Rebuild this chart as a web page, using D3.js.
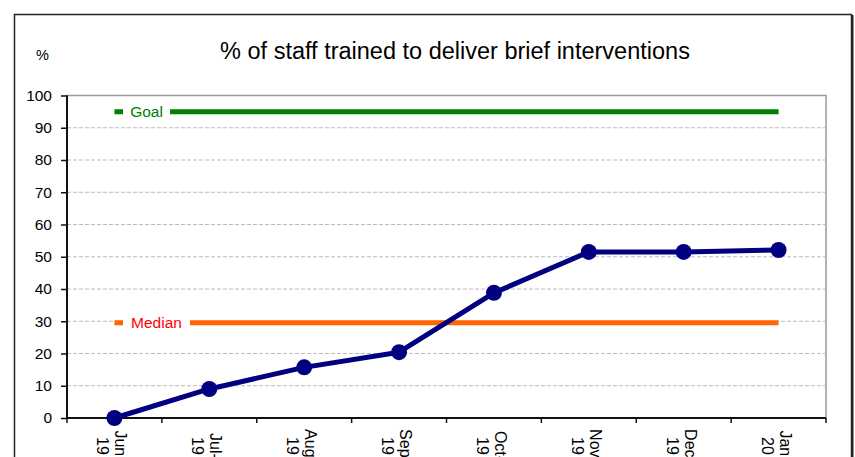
<!DOCTYPE html>
<html>
<head>
<meta charset="utf-8">
<script src="https://cdn.jsdelivr.net/npm/d3@7"></script>
<style>
  body { margin: 0; background: #fff; }
  text { font-family: "Liberation Sans", Arial, sans-serif; }
</style>
</head>
<body>
<div id="wrapper"></div>
<script>
  // data
  const months = ["Jun-19", "Jul-19", "Aug-19", "Sep-19", "Oct-19", "Nov-19", "Dec-19", "Jan-20"]
  const trained = [0, 9, 15.7, 20.4, 38.8, 51.5, 51.5, 52.1]
  const goal = 95
  const median = 29.5
  const yTicks = [0, 10, 20, 30, 40, 50, 60, 70, 80, 90, 100]

  const dimensions = {
    width: 855,
    height: 457,
    margin: { top: 95.5, right: 29, bottom: 39, left: 67 },
  }
  dimensions.boundedWidth = dimensions.width - dimensions.margin.left - dimensions.margin.right
  dimensions.boundedHeight = dimensions.height - dimensions.margin.top - dimensions.margin.bottom

  const svg = d3.select("#wrapper").append("svg")
      .attr("width", dimensions.width)
      .attr("height", dimensions.height)

  // outer frame
  svg.append("rect")
      .attr("x", 14.5).attr("y", 14.5)
      .attr("width", 837).attr("height", 460)
      .attr("fill", "none")
      .attr("stroke", "#222")
      .attr("stroke-width", 1.5)
  svg.append("line")
      .attr("x1", 852.5).attr("x2", 852.5)
      .attr("y1", 15).attr("y2", 457)
      .attr("stroke", "#222").attr("stroke-width", 2)

  svg.append("text")
      .attr("x", 455).attr("y", 59)
      .attr("text-anchor", "middle")
      .attr("font-size", 23.5)
      .text("% of staff trained to deliver brief interventions")
  svg.append("text")
      .attr("x", 42.5).attr("y", 60)
      .attr("text-anchor", "middle")
      .attr("font-size", 14.5)
      .text("%")

  const bounds = svg.append("g")
      .attr("transform", `translate(${dimensions.margin.left}, ${dimensions.margin.top})`)

  // scales
  const xScale = d3.scaleBand()
      .domain(months)
      .range([0, dimensions.boundedWidth])
  const xPos = d => xScale(d) + xScale.bandwidth() / 2

  const yScale = d3.scaleLinear()
      .domain([0, 100])
      .range([dimensions.boundedHeight, 0])

  // plot area border
  bounds.append("rect")
      .attr("width", dimensions.boundedWidth)
      .attr("height", dimensions.boundedHeight)
      .attr("fill", "none")
      .attr("stroke", "#999")
      .attr("stroke-width", 1.5)

  // gridlines
  bounds.append("g").selectAll("line")
    .data(yTicks.filter(d => d > 0 && d < 100))
    .join("line")
      .attr("x1", 0).attr("x2", dimensions.boundedWidth)
      .attr("y1", d => yScale(d)).attr("y2", d => yScale(d))
      .attr("stroke", "#bbb")
      .attr("stroke-dasharray", "4,2")

  // axes
  const yAxis = d3.axisLeft(yScale).tickValues(yTicks).tickSize(6).tickPadding(9)
  const yAxisG = bounds.append("g").call(yAxis)
  yAxisG.select(".domain").attr("stroke", "#111").attr("stroke-width", 2).attr("d", `M0,0V${dimensions.boundedHeight}`)
  yAxisG.selectAll(".tick line").attr("stroke", "#111").attr("stroke-width", 1.5)
  yAxisG.selectAll("text").attr("font-size", 15.5).attr("fill", "#000")
      .attr("font-family", "'Liberation Sans', Arial, sans-serif")

  const xAxisG = bounds.append("g")
      .attr("transform", `translate(0, ${dimensions.boundedHeight})`)
  xAxisG.append("line")
      .attr("x1", 0).attr("x2", dimensions.boundedWidth)
      .attr("stroke", "#111").attr("stroke-width", 2)
  xAxisG.selectAll(".xtick")
    .data(d3.range(months.length + 1))
    .join("line")
      .attr("class", "xtick")
      .attr("x1", i => i * xScale.step()).attr("x2", i => i * xScale.step())
      .attr("y1", 0).attr("y2", 5)
      .attr("stroke", "#111").attr("stroke-width", 1.5)
  const xLabels = xAxisG.selectAll(".xlabel")
    .data(months)
    .join("text")
      .attr("class", "xlabel")
      .attr("font-size", 16)
      .attr("text-anchor", "middle")
      .attr("transform", d => `translate(${xPos(d)}, ${446 - 418}) rotate(90)`)
  xLabels.append("tspan").attr("x", 0).attr("y", -1).text(d => d.split("-")[0] + "-")
  xLabels.append("tspan").attr("x", 0).attr("y", 17).text(d => d.split("-")[1])

  // reference lines
  const refLine = (value, color, label, labelColor, gapStart, gapEnd) => {
    const x0 = xPos(months[0])
    const x1 = xPos(months[months.length - 1])
    bounds.append("line")
        .attr("x1", x0).attr("x2", x1)
        .attr("y1", yScale(value)).attr("y2", yScale(value))
        .attr("stroke", color).attr("stroke-width", 5)
    bounds.append("rect")
        .attr("x", gapStart).attr("width", gapEnd - gapStart)
        .attr("y", yScale(value) - 9).attr("height", 18)
        .attr("fill", "#fff")
    bounds.append("text")
        .attr("x", (gapStart + gapEnd) / 2)
        .attr("y", yScale(value) + 5.5)
        .attr("text-anchor", "middle")
        .attr("font-size", 15.5)
        .attr("fill", labelColor)
        .text(label)
  }
  refLine(goal, "#008000", "Goal", "#008000", 56, 103)
  refLine(median, "#ff6600", "Median", "#ff0000", 56, 123)

  // main series
  const line = d3.line()
      .x((d, i) => xPos(months[i]))
      .y(d => yScale(d))
  bounds.append("path")
      .attr("d", line(trained))
      .attr("fill", "none")
      .attr("stroke", "#000080")
      .attr("stroke-width", 5)
      .attr("stroke-linejoin", "round")
  bounds.selectAll(".dot")
    .data(trained)
    .join("circle")
      .attr("class", "dot")
      .attr("cx", (d, i) => xPos(months[i]))
      .attr("cy", d => yScale(d))
      .attr("r", 8)
      .attr("fill", "#000080")
</script>
</body>
</html>
